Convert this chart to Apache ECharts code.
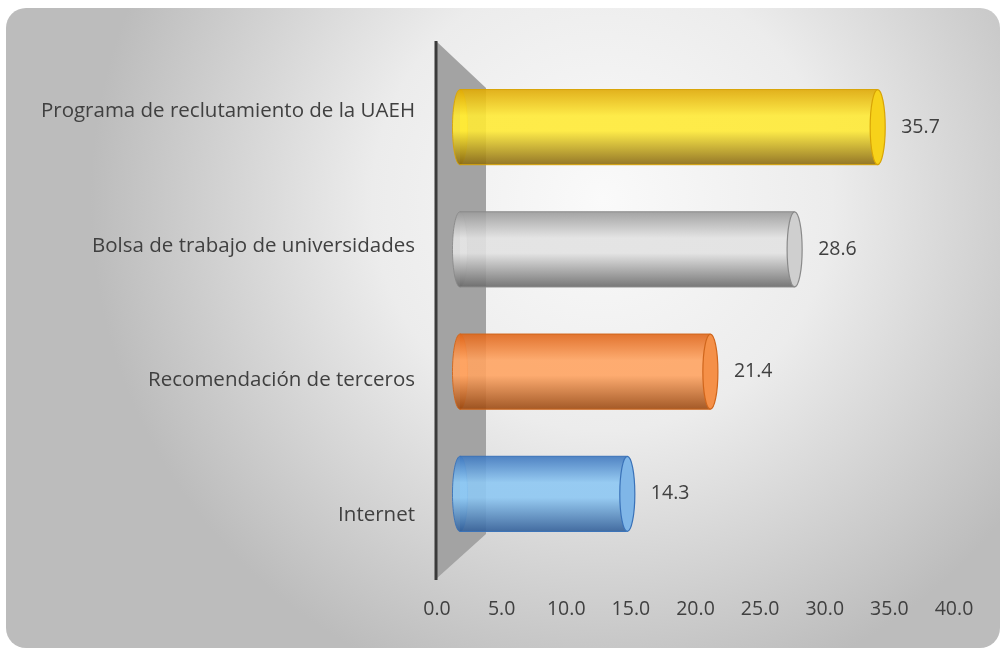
<!DOCTYPE html>
<html>
<head>
<meta charset="utf-8">
<script src="https://cdn.jsdelivr.net/npm/echarts@6/dist/echarts.min.js"></script>
<style>
html,body{margin:0;padding:0;background:#fff;}
#c{width:1001px;height:649px;}
</style>
</head>
<body>
<div id="c"></div>
<script>
// Data
const categories = ['Internet', 'Recomendación de terceros', 'Bolsa de trabajo de universidades', 'Programa de reclutamiento de la UAEH'];
const values = [14.3, 21.4, 28.6, 35.7];
const xTicks = [0, 5, 10, 15, 20, 25, 30, 35, 40];

const palettes = [
  { top: '#3f78bf', mid: '#8ec8f3', bot: '#33609a', cap: '#7fb6e8', edge: '#3a72b8' },
  { top: '#e0661a', mid: '#ffa462', bot: '#9c4a12', cap: '#f59048', edge: '#d0661c' },
  { top: '#9a9a9a', mid: '#e2e2e2', bot: '#6a6a6a', cap: '#cfcfcf', edge: '#8a8a8a' },
  { top: '#e0aa06', mid: '#ffea36', bot: '#8a6a12', cap: '#f7d21a', edge: '#d8a406' }
];

const chart = echarts.init(document.getElementById('c'));
const FONT = '"Open Sans", "Noto Sans", sans-serif';

function grad(p) {
  return new echarts.graphic.LinearGradient(0, 0, 0, 1, [
    { offset: 0, color: p.top },
    { offset: 0.35, color: p.mid },
    { offset: 0.55, color: p.mid },
    { offset: 1, color: p.bot }
  ]);
}

chart.setOption({
  animation: false,
  graphic: [
    {
      type: 'rect', z: -10, silent: true,
      shape: { x: 6, y: 8, width: 994, height: 640, r: 20 },
      style: {
        fill: new echarts.graphic.RadialGradient(0.6, 0.3, 0.8, [
          { offset: 0, color: '#fafafa' },
          { offset: 0.45, color: '#ececec' },
          { offset: 1, color: '#bcbcbc' }
        ])
      }
    },
    {
      type: 'polygon', z: 0, silent: true,
      shape: { points: [[436, 41], [486, 88], [486, 534], [436, 579]] },
      style: { fill: '#a3a3a3' }
    },
    {
      type: 'line', z: 1, silent: true,
      shape: { x1: 436, y1: 41, x2: 436, y2: 580 },
      style: { stroke: '#3a3a3a', lineWidth: 3 }
    }
  ],
  grid: [
    { left: 460, width: 468, top: 66, height: 489 },
    { left: 437, right: 47, top: 44, bottom: 67 }
  ],
  xAxis: [
    { gridIndex: 0, type: 'value', min: 0, max: 40, show: false },
    {
      gridIndex: 1, type: 'value', min: xTicks[0], max: xTicks[xTicks.length - 1], interval: 5,
      axisLine: { show: false }, axisTick: { show: false }, splitLine: { show: false },
      axisLabel: { margin: 17, color: '#404040', fontSize: 19.5, fontFamily: FONT,
        formatter: v => v.toFixed(1) }
    }
  ],
  yAxis: [
    { gridIndex: 0, type: 'category', data: categories, show: false },
    {
      gridIndex: 1, type: 'category', data: categories,
      axisLine: { show: false }, axisTick: { show: false },
      axisLabel: { margin: 22, color: '#404040', fontSize: 20.5, fontFamily: FONT }
    }
  ],
  series: [{
    type: 'custom',
    xAxisIndex: 0, yAxisIndex: 0, z: 2,
    encode: { x: 0, y: 1 },
    data: values.map((v, i) => [v, i]),
    renderItem: function (params, api) {
      const i = api.value(1), v = api.value(0);
      const p0 = api.coord([0, i]);
      const p1 = api.coord([v, i]);
      const h = api.size([0, 1])[1] * 0.615;
      const rx = h * 0.1;
      const cy = p0[1];
      const p = palettes[i];
      const g = grad(p);
      return {
        type: 'group',
        children: [
          { type: 'ellipse', shape: { cx: p0[0], cy: cy, rx: rx, ry: h / 2 },
            style: { fill: g, stroke: p.edge, lineWidth: 1, opacity: 0.9 } },
          { type: 'rect', shape: { x: p0[0], y: cy - h / 2, width: p1[0] - p0[0], height: h },
            style: { fill: g, opacity: 0.9 } },
          { type: 'line', shape: { x1: p0[0], y1: cy - h / 2, x2: p1[0], y2: cy - h / 2 },
            style: { stroke: p.edge, lineWidth: 1 } },
          { type: 'line', shape: { x1: p0[0], y1: cy + h / 2, x2: p1[0], y2: cy + h / 2 },
            style: { stroke: p.edge, lineWidth: 1 } },
          { type: 'ellipse', shape: { cx: p1[0], cy: cy, rx: rx, ry: h / 2 },
            style: { fill: p.cap, stroke: p.edge, lineWidth: 1.2 } },
          { type: 'text', x: p1[0] + rx + 16, y: cy,
            style: { text: v.toFixed(1), fill: '#404040', font: '19.5px ' + FONT,
              verticalAlign: 'middle', align: 'left' } }
        ]
      };
    }
  }]
});
</script>
</body>
</html>
